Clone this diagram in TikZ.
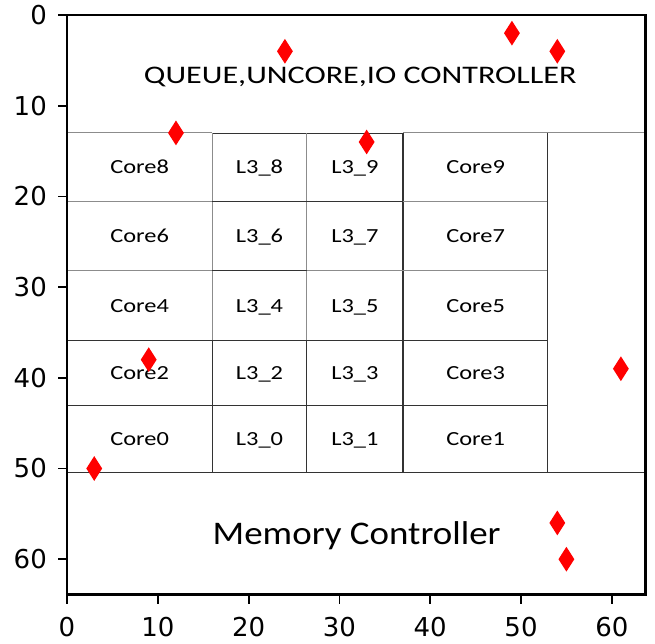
\documentclass[tikz,border=0pt]{standalone}
\usepackage{fontspec}
\setmainfont{Carlito}
\newfontfamily\cellfont[FakeStretch=1.22]{Carlito}
\newfontfamily\headfont[FakeStretch=1.27]{Carlito}
\newfontfamily\memfont[FakeStretch=1.12]{Carlito}
\newfontfamily\tickfont{DejaVu Sans}
\usepackage{tikz}
\usetikzlibrary{shapes, shapes.geometric}

\begin{document}
\begin{tikzpicture}[%
        x=9.08pt, y=-9.07pt,        % one data unit, y axis runs downwards
        font=\cellfont\fontsize{20}{24}\selectfont,
    ]
    \tikzset{
        frame/.style={draw, line width=2.6pt},
        ticmark/.style={draw, line width=1.8pt},
        ticklabel/.style={inner sep=0pt, font=\tickfont\fontsize{26}{30}\selectfont},
        % floorplan lines come in two shades
        lite/.style={draw, black!45, line width=1.1pt},
        dark/.style={draw, black!80, line width=1.1pt},
        cell/.style={anchor=base, inner sep=0pt, yshift=-6.3pt},
        bigtext/.style={anchor=base, inner sep=0pt},
        marker/.style={diamond, fill=red, draw=none, inner sep=0pt,
            minimum width=16pt, minimum height=25pt},
    }
    \useasboundingbox (-67pt,15pt) rectangle (588pt,-628pt);
    %%% Floorplan
    \draw[lite] (0,13) -- (16,13);
    \draw[dark] (16,13.1) -- (37,13.1);
    \draw[lite] (37,13) -- (63.7,13);
    \draw[lite] (16,13) -- (16,35.9);
    \draw[dark] (16,35.9) -- (16,50.4);
    \draw[lite] (26.4,13) -- (26.4,35.9);
    \draw[dark] (26.4,35.9) -- (26.4,50.4);
    \draw[dark] (37,13) -- (37,50.4);
    \draw[dark] (52.9,13) -- (52.9,50.4);
    \draw[lite] (0,20.6) -- (16,20.6);
    \draw[dark] (16,20.6) -- (37,20.6);
    \draw[lite] (37,20.6) -- (52.9,20.6);
    \draw[lite] (0,28.2) -- (16,28.2);
    \draw[dark] (16,28.2) -- (26.4,28.2);
    \draw[lite] (26.4,28.2) -- (52.9,28.2);
    \draw[dark] (0,35.9) -- (52.9,35.9);
    \draw[dark] (0,43.1) -- (52.9,43.1);
    \draw[dark] (0,50.4) -- (63.7,50.4);
    %%% Blocks
    \node[bigtext, font=\headfont\fontsize{25.3}{30}\selectfont] (uncore) at (32.3,7.53)
        {QUEUE,UNCORE,IO CONTROLLER};
    \node[bigtext, font=\memfont\fontsize{33}{40}\selectfont] (memctl) at (31.9,58.36)
        {Memory Controller};
    \foreach \k/\yc in {4/16.8, 3/24.4, 2/32.05, 1/39.5, 0/46.75} {
        \pgfmathtruncatemacro{\ev}{2*\k}
        \pgfmathtruncatemacro{\od}{2*\k+1}
        \node[cell] (core\ev) at (8,\yc) {Core\ev};
        \node[cell] (lthree\ev) at (21.2,\yc) {L3\_\ev};
        \node[cell] (lthree\od) at (31.7,\yc) {L3\_\od};
        \node[cell] (core\od) at (45,\yc) {Core\od};
    }
    %%% Axes
    \draw[frame] (0,0) rectangle (63.7,63.9);
    \foreach \v in {0,10,...,60} {
        \draw[ticmark] (\v,63.9) -- ++(0pt,-9.5pt);
        \node[ticklabel, anchor=north, yshift=-22.7pt] (xt\v) at (\v,63.9) {\v};
        \draw[ticmark] (0,\v) -- ++(-9.5pt,0pt);
        \node[ticklabel, anchor=east, xshift=-20pt] (yt\v) at (0,\v) {\v};
    }
    %%% Markers
    \foreach \mx/\my [count=\i] in {24/4, 49/2, 54/4, 12/13, 33/14, 9/38, 61/39, 3/50, 54/56, 55/60}
        \node[marker] (m\i) at (\mx,\my) {};
\end{tikzpicture}
\end{document}
